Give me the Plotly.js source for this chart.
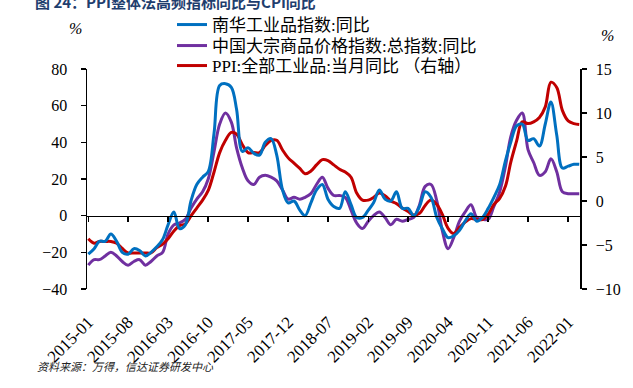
<!DOCTYPE html>
<html>
<head>
<meta charset="utf-8">
<script src="https://cdn.plot.ly/plotly-3.0.1.min.js"></script>
<style>html,body{margin:0;padding:0;background:#fff;}#chart{width:633px;height:388px;}</style>
</head>
<body>
<div id="chart"></div>
<script>
// Months 2015-01 .. 2022-03
var months = [];
for (var y = 2015; y <= 2022; y++) {
  for (var m = 1; m <= 12; m++) {
    if (y === 2022 && m > 3) break;
    months.push(y + '-' + (m < 10 ? '0' + m : m) + '-01');
  }
}
var nanhuaName = '南华工业品指数:同比';
var bulkName = '中国大宗商品价格指数:总指数:同比';
var ppiName = 'PPI:全部工业品:当月同比 （右轴）';

var nanhua = [-21,-18,-14,-14,-10,-14,-20,-21,-18,-19,-22,-20,
  -17,-13,-5,2,-7,-5,8,17,21,24,45,71,
  72,70,58,35,37,34,33,40,42,33,14,7,
  8,3,0,7,14,17,9,5,4,13,6,-1,
  -1,3,7,14,9,8,13,4,4,0,5,13,
  10,-1,-7,-12,-11,-8,-3,1,-3,-1,4,10,
  17,30,40,49,50,41,42,38,50,62,44,26,
  27,28,28];
var bulk = [-27,-24,-24,-22,-20,-22,-25,-27,-25,-24,-27,-25,
  -22,-20,-10,-5,-4,-2,4,9,13,20,35,50,
  56,51,37,26,19,17,21,22,21,19,14,9,
  10,9,10,12,17,21,15,11,11,10,3,-4,
  -7,-3,0,2,-1,-5,-2,-3,-2,-1,6,16,
  17,8,-8,-18,-12,-3,2,6,-1,-2,-2,5,
  13,27,43,52,56,36,29,22,24,31,24,13,
  12,12,12];
var ppi = [-4.3,-4.8,-4.6,-4.6,-4.6,-4.8,-5.4,-5.9,-5.9,-5.9,-5.9,-5.9,
  -5.3,-4.9,-4.3,-3.4,-2.8,-2.6,-1.7,-0.8,0.1,1.2,3.3,5.5,
  6.9,7.8,7.6,6.4,5.5,5.5,5.5,6.3,6.9,6.9,5.8,4.9,
  4.3,3.7,3.1,3.4,4.1,4.7,4.6,4.1,3.6,3.3,2.7,0.9,
  0.1,0.1,0.4,0.9,0.6,0.0,-0.3,-0.8,-1.2,-1.6,-1.4,-0.5,
  0.1,-0.4,-1.5,-3.1,-3.7,-3.0,-2.4,-2.0,-2.1,-2.1,-1.5,-0.4,
  0.3,1.7,4.4,6.8,9.0,8.8,9.0,9.5,10.7,13.5,12.9,10.3,
  9.1,8.8,8.7];

var serif = "'Liberation Serif', 'Times New Roman', 'Noto Sans CJK SC', serif";
var xRange = ['2014-12-25', '2022-03-05'];

var traces = [
  {x: months, y: nanhua, name: nanhuaName, type: 'scatter', mode: 'lines', xaxis: 'x2', yaxis: 'y',
   legend: 'legend', line: {color: '#0070C0', width: 3, shape: 'spline', smoothing: 1}},
  {x: months, y: bulk, name: bulkName, type: 'scatter', mode: 'lines', xaxis: 'x', yaxis: 'y',
   legend: 'legend2', line: {color: '#7030A0', width: 3, shape: 'spline', smoothing: 1}},
  {x: months, y: ppi, name: ppiName, type: 'scatter', mode: 'lines', xaxis: 'x', yaxis: 'y2',
   legend: 'legend3', line: {color: '#C00000', width: 3, shape: 'spline', smoothing: 1}}
];

function legendAt(topPx) {
  return {
    x: (172-87)/493, xanchor: 'left', yref: 'container', y: 1 - topPx/388, yanchor: 'top',
    bgcolor: 'rgba(0,0,0,0)', borderwidth: 0,
    font: {family: serif, size: 17, color: '#000'}
  };
}

var layout = {
  width: 633, height: 388,
  margin: {l: 87, r: 53, t: 69, b: 99, pad: 0, autoexpand: false},
  paper_bgcolor: '#fff', plot_bgcolor: 'rgba(0,0,0,0)',
  showlegend: true,
  title: {
    text: '<b>图 24：PPI整体法高频指标同比与CPI同比</b>',
    font: {family: "'Noto Sans CJK SC', sans-serif", size: 15, color: '#1F3E6E'},
    x: 35/633, xref: 'container', xanchor: 'left',
    y: 1 - 8/388, yref: 'container', yanchor: 'bottom'
  },
  legend: legendAt(7),
  legend2: legendAt(28),
  legend3: legendAt(48),
  xaxis: {
    type: 'date', range: xRange, tick0: '2015-01-01', dtick: 'M7', tickformat: '%Y-%m',
    tickangle: -45, showline: false, ticks: '', showgrid: false, zeroline: false,
    tickfont: {family: serif, size: 17, color: '#000'}, ticklabelstandoff: 19,
    anchor: 'y', fixedrange: true
  },
  xaxis2: {
    type: 'date', range: xRange, tick0: '2015-01-01', dtick: 'M7',
    overlaying: 'x', anchor: 'free', position: 1/3, side: 'bottom',
    showline: true, linecolor: '#000', linewidth: 1.5,
    ticks: 'outside', ticklen: 5, tickwidth: 1.5, tickcolor: '#000',
    showticklabels: false, showgrid: false, zeroline: false
  },
  yaxis: {
    range: [-40, 80], dtick: 20, tick0: 0, showgrid: false, zeroline: false,
    showline: true, linecolor: '#000', linewidth: 1.5,
    ticks: 'outside', ticklen: 5, tickwidth: 1.5, tickcolor: '#000',
    tickfont: {family: serif, size: 16, color: '#000'}, ticklabelstandoff: 10
  },
  yaxis2: {
    range: [-10, 15], dtick: 5, tick0: 0, overlaying: 'y', side: 'right', anchor: 'x',
    showgrid: false, zeroline: false,
    showline: true, linecolor: '#000', linewidth: 1.5,
    ticks: 'outside', ticklen: 5, tickwidth: 1.5, tickcolor: '#000',
    tickfont: {family: serif, size: 16, color: '#000'}, ticklabelstandoff: 6
  },
  annotations: [
    {text: '%', xref: 'paper', yref: 'paper', x: (75-87)/493, y: (289-28)/220,
     showarrow: false, xanchor: 'center', yanchor: 'middle',
     font: {family: serif, size: 16, color: '#000', style: 'italic'}},
    {text: '%', xref: 'paper', yref: 'paper', x: (607-87)/493, y: (289-35)/220,
     showarrow: false, xanchor: 'center', yanchor: 'middle',
     font: {family: serif, size: 16, color: '#000', style: 'italic'}},
    {text: '资料来源：万得，信达证券研发中心', xref: 'paper', yref: 'paper',
     x: (35-87)/493, y: (289-366)/220, showarrow: false, xanchor: 'left', yanchor: 'middle',
     font: {family: "'Noto Sans CJK SC', sans-serif", size: 11, color: '#222', style: 'italic'}}
  ]
};

Plotly.newPlot('chart', traces, layout, {staticPlot: true, displayModeBar: false});
</script>
</body>
</html>
